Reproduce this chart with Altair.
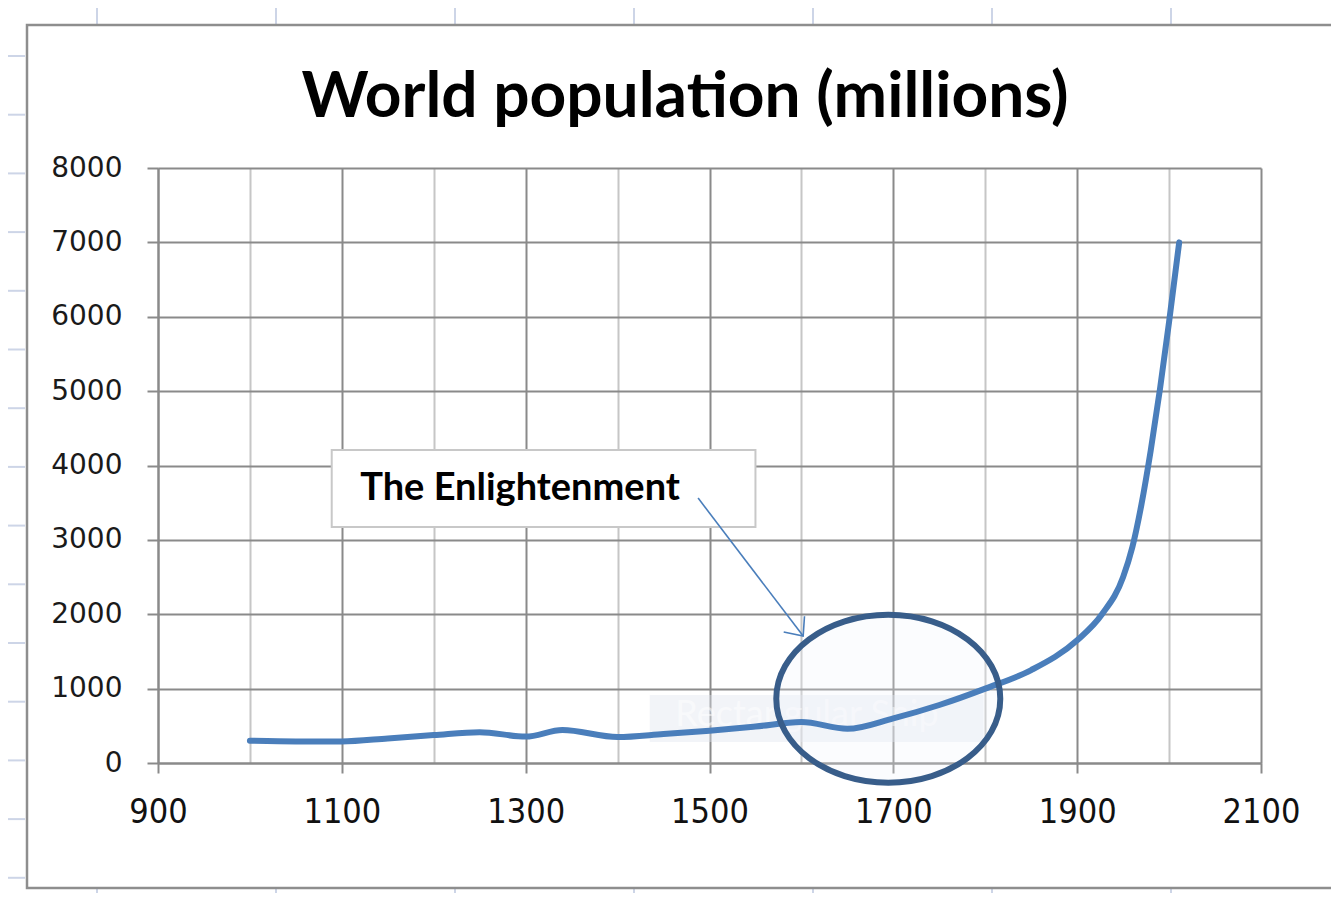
import altair as alt
import pandas as pd

# ---------------- data ----------------
years = [1000, 1050, 1100, 1150, 1200, 1250, 1300, 1340, 1400, 1450, 1500, 1550,
         1600, 1650, 1700, 1750, 1800, 1850, 1900, 1927, 1950, 1960, 1970, 1980,
         1990, 2000, 2011]
population = [300, 290, 290, 330, 375, 415, 355, 443, 350, 390, 435, 490,
              550, 460, 600, 780, 1000, 1250, 1650, 2000, 2500, 2900, 3480, 4200,
              5020, 5930, 7000]

x_ticks = list(range(900, 2101, 100))
y_ticks = list(range(0, 8001, 1000))

title_text = "World population (millions)"
note_text = "The Enlightenment"
ghost_text = "Rectangular Snip"

# annotation anchors (data coordinates)
ellipse_center = {"x": [1694.5], "y": [865]}
note_box = {"x": [1089], "x2": [1550], "y": [4207], "y2": [3172]}
note_anchor = {"x": [1120], "y": [3535], "t": [note_text]}
arrow = {"x": [1487.6], "y": [3562], "x2": [1601.9], "y2": [1707]}
ghost_box = {"x": [1435], "x2": [1798], "y": [914], "y2": [282]}
ghost_anchor = {"x": [1606], "y": [645], "t": [ghost_text]}

# ---------------- layout ----------------
W, H = 1103, 595
PAD = {"left": 150, "top": 160, "right": 70, "bottom": 130}

xs = alt.Scale(domain=[900, 2100], nice=False, zero=False)
ys = alt.Scale(domain=[0, 8000], nice=False, zero=False)

major = "datum.value % 200 == 100"
x_axis = alt.Axis(
    values=x_ticks, title=None, format="d",
    labelExpr=f"{major} ? datum.label : ''",
    labelFont="Liberation Sans Narrow, DejaVu Sans Condensed, sans-serif",
    labelFontSize=34, labelColor="#111111", labelPadding=22, labelFlush=False,
    labelOverlap=False,
    grid=True, gridWidth=2,
    gridColor={"condition": {"test": major, "value": "#8a8a8a"}, "value": "#c6c6c6"},
    tickSize=10, tickWidth=2, tickColor="#8a8a8a",
    tickOpacity={"condition": {"test": major, "value": 1}, "value": 0},
    domainColor="#8a8a8a", domainWidth=2,
)
y_axis = alt.Axis(
    values=y_ticks, title=None, format="d",
    labelFont="DejaVu Sans", labelFontSize=28, labelColor="#1a1a1a",
    labelPadding=25, labelBaseline="middle", labelFlush=False,
    grid=True, gridWidth=2, gridColor="#8a8a8a",
    tickSize=11, tickWidth=2, tickColor="#8a8a8a",
    domainColor="#8a8a8a", domainWidth=2,
)

df = pd.DataFrame({"year": years, "pop": population})

line = alt.Chart(df).mark_line(
    color="#4a7ebb", strokeWidth=6, interpolate="monotone", strokeCap="round"
).encode(
    x=alt.X("year:Q", scale=xs, axis=x_axis),
    y=alt.Y("pop:Q", scale=ys, axis=y_axis),
)

def dX(field):
    return alt.X(f"{field}:Q", scale=xs, title=None)

def dY(field):
    return alt.Y(f"{field}:Q", scale=ys, title=None)

ghost_rect = alt.Chart(pd.DataFrame(ghost_box)).mark_rect(
    fill="#dfe3ee", opacity=0.4
).encode(x=dX("x"), x2="x2:Q", y=dY("y"), y2="y2:Q")

ghost_label = alt.Chart(pd.DataFrame(ghost_anchor)).mark_text(
    font="Lato", fontSize=36, color="#ffffff", opacity=0.5,
    align="center", baseline="middle"
).encode(x=dX("x"), y=dY("y"), text="t:N")

box = alt.Chart(pd.DataFrame(note_box)).mark_rect(
    fill="white", stroke="#c8c8c8", strokeWidth=2
).encode(x=dX("x"), x2="x2:Q", y=dY("y"), y2="y2:Q")

note = alt.Chart(pd.DataFrame(note_anchor)).mark_text(
    font="Lato", fontWeight="bold", fontSize=38, color="#000000",
    align="left", baseline="alphabetic"
).encode(x=dX("x"), y=dY("y"), text="t:N")

ellipse_path = ("M 1 0 C 1 0.414 0.552 0.75 0 0.75 C -0.552 0.75 -1 0.414 -1 0 "
                "C -1 -0.414 -0.552 -0.75 0 -0.75 C 0.552 -0.75 1 -0.414 1 0 Z")
ell_df = pd.DataFrame(ellipse_center)
ellipse_fill = alt.Chart(ell_df).mark_point(
    shape=ellipse_path, size=50176, filled=True, fill="#eef2fa", fillOpacity=0.25,
    strokeWidth=0, opacity=1
).encode(x=dX("x"), y=dY("y"))
ellipse_ring = alt.Chart(ell_df).mark_point(
    shape=ellipse_path, size=50176, filled=False,
    color="#385d8a", strokeWidth=6, opacity=1
).encode(x=dX("x"), y=dY("y"))

arrow_df = pd.DataFrame(arrow)
arrow_line = alt.Chart(arrow_df).mark_rule(
    color="#4a7ebb", strokeWidth=1.6
).encode(x=dX("x"), y=dY("y"), x2="x2:Q", y2="y2:Q")

arrow_head = alt.Chart(arrow_df).mark_point(
    shape="M -0.87 1 L 0 0 L 0.87 1", size=900, angle=142.8, filled=False,
    color="#4a7ebb", strokeWidth=1.6, opacity=1
).encode(x=dX("x2"), y=dY("y2"))

title = alt.Chart(pd.DataFrame({"t": [title_text]})).mark_text(
    font="Lato", fontWeight="bold", fontSize=64, color="#000000",
    align="center", baseline="alphabetic"
).encode(x=alt.value(527), y=alt.value(-51), text="t:N")

# chart frame (pixel offsets from plot origin)
frame = alt.Chart(pd.DataFrame({"a": [0]})).mark_rect(
    fillOpacity=0, stroke="#8e8e8e", strokeWidth=2.5
).encode(x=alt.value(-131), x2=alt.value(1250), y=alt.value(-143), y2=alt.value(720))

# faint spreadsheet cell lines around the chart frame (pixel offsets)
col_px = [-61 + 179 * i for i in range(7)]
row_px = [-112 + 58.7 * i for i in range(15)]
top_cols = [alt.Chart(pd.DataFrame({"a": [0]})).mark_rule(color="#cdd5e7", strokeWidth=2)
            .encode(x=alt.value(p), y=alt.value(-160), y2=alt.value(-144)) for p in col_px]
bot_cols = [alt.Chart(pd.DataFrame({"a": [0]})).mark_rule(color="#cdd5e7", strokeWidth=2)
            .encode(x=alt.value(p), y=alt.value(721), y2=alt.value(740)) for p in col_px]
left_rows = [alt.Chart(pd.DataFrame({"a": [0]})).mark_rule(color="#cdd5e7", strokeWidth=2)
             .encode(y=alt.value(p), x=alt.value(-150), x2=alt.value(-133)) for p in row_px]

# data line above the translucent overlays, ring on top
chart = alt.layer(
    *top_cols, *bot_cols, *left_rows, frame, ghost_rect, ghost_label,
    ellipse_fill, box, note, line, ellipse_ring, arrow_line, arrow_head, title,
).properties(
    width=W, height=H, padding=PAD,
    autosize=alt.AutoSizeParams(type="none"),
    background="white",
).configure_view(strokeWidth=0)

chart.save("out.html", embed_options={"renderer": "svg", "actions": False})
